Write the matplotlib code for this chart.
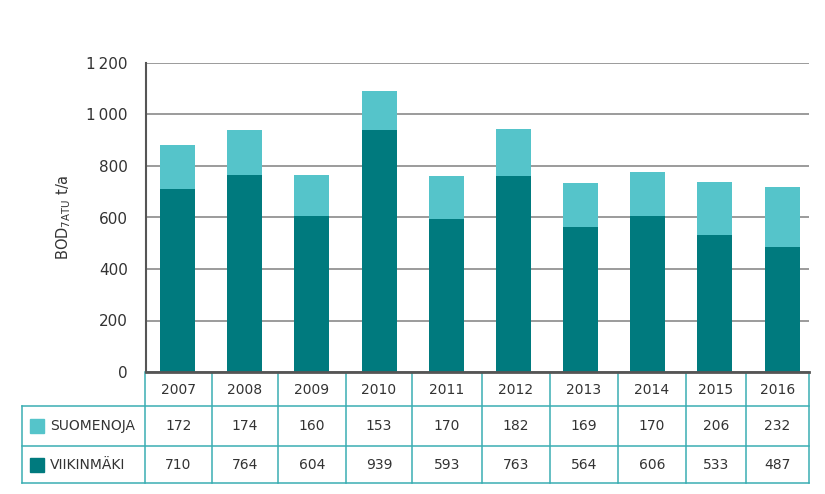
import matplotlib
matplotlib.use("Agg")
import matplotlib.pyplot as plt
from matplotlib.patches import Rectangle

years = ["2007", "2008", "2009", "2010", "2011", "2012", "2013", "2014", "2015", "2016"]
suomenoja = [172, 174, 160, 153, 170, 182, 169, 170, 206, 232]
viikinmaki = [710, 764, 604, 939, 593, 763, 564, 606, 533, 487]
series_names = ["SUOMENOJA", "VIIKINMÄKI"]
yticks = [0, 200, 400, 600, 800, 1000, 1200]
ytick_labels = ["0", "200", "400", "600", "800", "1\u2009000", "1\u2009200"]

DARK = "#007A7E"
LIGHT = "#55C4CA"
BORDER = "#3AAEB3"
TXT = "#333333"

plt.rcParams["font.family"] = ["DejaVu Sans"]

W, H = 825, 494
fig = plt.figure(figsize=(W / 100, H / 100), dpi=100)

ax_l, ax_r, ax_t, ax_b = 146, 809, 63, 372
ax = fig.add_axes([ax_l / W, 1 - ax_b / H, (ax_r - ax_l) / W, (ax_b - ax_t) / H])

x = list(range(len(years)))
ax.bar(x, viikinmaki, width=0.52, color=DARK, zorder=3)
ax.bar(x, suomenoja, width=0.52, bottom=viikinmaki, color=LIGHT, zorder=3)
ax.set_xlim(-0.47, 9.4)
ax.set_ylim(0, 1200)
ax.set_yticks(yticks)
ax.set_yticklabels(ytick_labels, fontsize=11, color=TXT)
ax.set_xticks([])
ax.tick_params(axis="y", length=0, pad=13)
ax.yaxis.grid(True, color="#8a8a8a", linewidth=1.2, zorder=0)
for s in ["top", "right"]:
    ax.spines[s].set_visible(False)
ax.spines["left"].set_color("#555555")
ax.spines["left"].set_linewidth(1.5)
ax.spines["bottom"].set_color("#555555")
ax.spines["bottom"].set_linewidth(2)
ax.spines["bottom"].set_zorder(5)
ax.set_ylabel("BOD$_{\\mathregular{7ATU}}$ t/a", fontsize=10.5, color=TXT, labelpad=10)

# table overlay in pixel coordinates
ov = fig.add_axes([0, 0, 1, 1], zorder=-1)
ov.set_xlim(0, W)
ov.set_ylim(H, 0)
ov.axis("off")

cols = [145, 212, 278, 346, 412, 482, 550, 618, 686, 746, 809]
r0, r1, r2, r3 = 372, 406, 446, 483
lab_l = 22
lw = 1.1
ov.plot([lab_l, cols[-1]], [r1, r1], color=BORDER, lw=lw)
ov.plot([lab_l, cols[-1]], [r2, r2], color=BORDER, lw=lw)
ov.plot([lab_l, cols[-1]], [r3, r3], color=BORDER, lw=lw)
for c in cols:
    ov.plot([c, c], [r0, r3], color=BORDER, lw=lw)
ov.plot([lab_l, lab_l], [r1, r3], color=BORDER, lw=lw)

for i, yv in enumerate(years):
    cx = (cols[i] + cols[i + 1]) / 2
    ov.text(cx, (r0 + r1) / 2 + 1, yv, ha="center", va="center", fontsize=10, color=TXT)
    ov.text(cx, (r1 + r2) / 2, str(suomenoja[i]), ha="center", va="center", fontsize=10, color=TXT)
    ov.text(cx, (r2 + r3) / 2, str(viikinmaki[i]), ha="center", va="center", fontsize=10, color=TXT)

for (ra, rb), name, colr in [((r1, r2), series_names[0], LIGHT), ((r2, r3), series_names[1], DARK)]:
    cy = (ra + rb) / 2
    ov.add_patch(Rectangle((30, cy - 7), 14, 14, color=colr))
    ov.text(50, cy, name, ha="left", va="center", fontsize=10, color=TXT)

fig.savefig("out.png", dpi=100)
